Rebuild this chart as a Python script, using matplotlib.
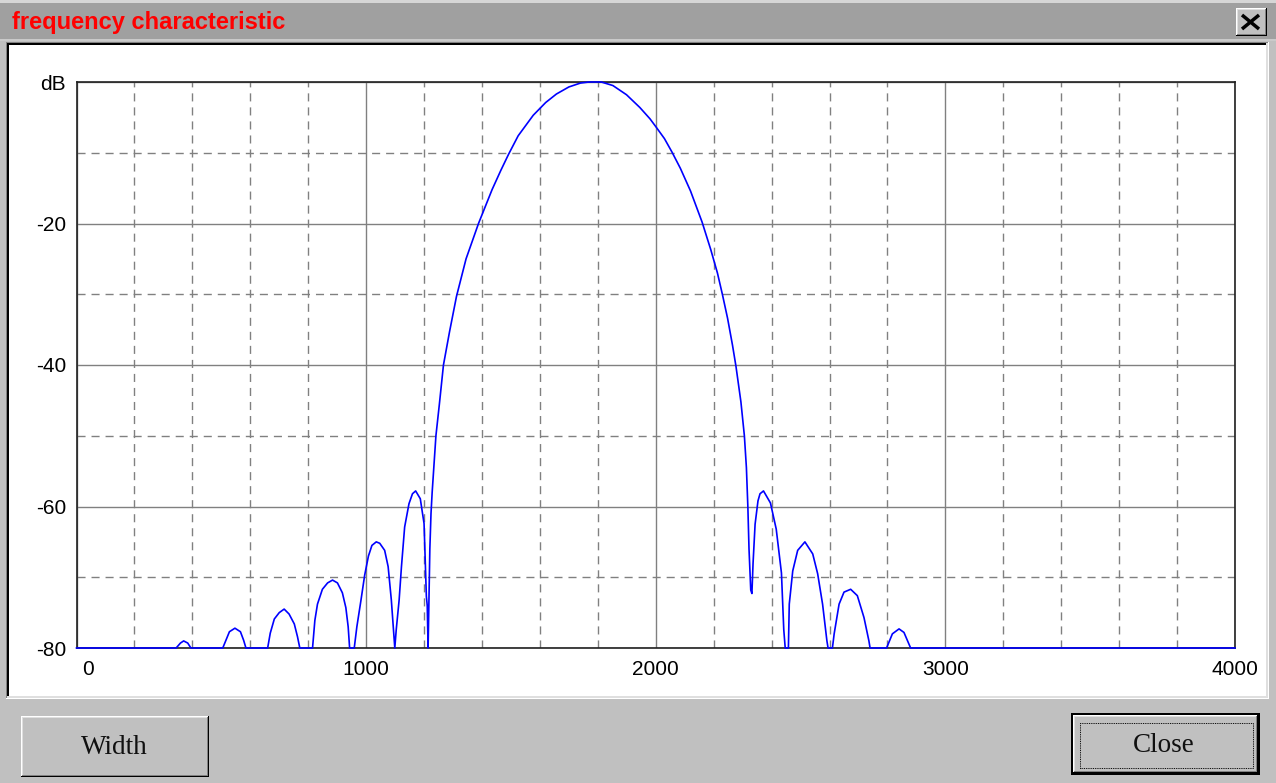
import matplotlib
matplotlib.use("Agg")
import matplotlib.pyplot as plt
import matplotlib.transforms as mtransforms
from matplotlib.patches import Rectangle
from matplotlib.lines import Line2D
from matplotlib.ticker import MultipleLocator

# ---------------------------------------------------------------- data
# Filter magnitude response (dB, floor at -80) versus frequency (Hz)
left_lobes_hz = [0, 344, 359, 370, 384, 395,
                 505, 516, 528, 547, 566, 577, 585,
                 660, 669, 683, 700, 717, 734, 752, 763, 771,
                 815, 823, 832, 849, 867, 884, 901, 918, 930, 938, 943,
                 959, 968, 982, 995, 1008, 1020, 1035, 1047, 1064, 1076, 1087, 1095, 1099,
                 1104, 1114, 1122, 1133, 1148, 1160, 1171, 1187, 1200, 1208, 1211, 1214]
left_lobes_db = [-80, -80, -79.3, -79.0, -79.3, -80,
                 -80, -78.9, -77.7, -77.2, -77.7, -78.9, -80,
                 -80, -77.9, -75.9, -75.0, -74.5, -75.2, -76.6, -78.4, -80,
                 -80, -76.1, -73.8, -71.7, -70.8, -70.4, -70.8, -72.2, -74.3, -77.0, -80,
                 -80, -77.0, -73.3, -69.7, -67.0, -65.5, -65.0, -65.2, -66.2, -68.5, -73.2, -77.6, -80,
                 -77.4, -73.2, -68.5, -62.9, -59.6, -58.2, -57.8, -58.9, -62.4, -72.7, -74.0, -80]

main_lobe_hz = [1217, 1220, 1224, 1228, 1233, 1241, 1253, 1267, 1288, 1312, 1345, 1388,
                1435, 1465, 1492, 1525, 1577, 1620, 1657, 1700, 1740, 1770, 1812, 1852,
                1899, 1945, 1980, 2000, 2030, 2056, 2085, 2120, 2160, 2190, 2213, 2230,
                2248, 2265, 2277, 2294, 2306, 2313, 2318, 2322, 2328, 2332]
main_lobe_db = [-72.7, -66, -61, -58, -55, -50, -45.5, -40, -35.3, -30.3, -25, -20,
                -15.2, -12.5, -10.2, -7.6, -4.7, -2.9, -1.7, -0.7, -0.15, 0, 0, -0.5,
                -1.8, -3.6, -5.2, -6.3, -8.0, -9.9, -12.2, -15.4, -19.8, -23.7, -27.0, -30.0,
                -33.4, -37.2, -40.2, -45.2, -50.0, -54.5, -60, -66, -71.8, -72.3]

right_lobes_hz = [2336, 2343, 2353, 2360, 2372, 2396, 2416, 2434, 2442, 2447,
                  2458, 2461, 2473, 2490, 2515, 2542, 2559, 2576, 2591, 2595,
                  2610, 2616, 2633, 2650, 2673, 2696, 2719, 2736, 2740,
                  2797, 2817, 2840, 2857, 2880,
                  4000]
right_lobes_db = [-68, -62.5, -59.2, -58.2, -57.8, -59.5, -63.2, -69.4, -77.4, -80,
                  -80, -73.8, -69.1, -66.2, -65.0, -66.7, -69.5, -73.8, -79, -80,
                  -80, -78, -73.8, -72.1, -71.7, -72.6, -75.7, -79, -80,
                  -80, -78, -77.3, -77.8, -80,
                  -80]

x_ticks = [0, 1000, 2000, 3000, 4000]
x_tick_labels = ["0", "1000", "2000", "3000", "4000"]
y_ticks = [0, -20, -40, -60, -80]
y_tick_labels = ["dB", "-20", "-40", "-60", "-80"]

window_title = "frequency characteristic"
width_button_label = "Width"
close_button_label = "Close"

# ---------------------------------------------------------------- figure
W, H, DPI = 1276, 783, 100
fig = plt.figure(figsize=(W / DPI, H / DPI), dpi=DPI, facecolor="#c0c0c0")


def fx(x):
    return x / W


def fy(y):
    return 1 - y / H


def box(x0, y0, x1, y1, color, z=-5):
    fig.add_artist(Rectangle((fx(x0), fy(y1)), (x1 - x0) / W, (y1 - y0) / H,
                             transform=fig.transFigure, facecolor=color,
                             edgecolor="none", zorder=z, antialiased=False))


def bevel(x0, y0, x1, y1, light, dark, t=1, z=-4):
    box(x0, y0, x1, y0 + t, light, z)
    box(x0, y0, x0 + t, y1, light, z)
    box(x0, y1 - t, x1, y1, dark, z)
    box(x1 - t, y0, x1, y1, dark, z)


# title bar
box(0, 0, W, 3, "#d6d6d6")
box(0, 3, W, 39, "#a0a0a0")
box(0, 39, W, 41, "#cacaca")
fig.text(fx(12), fy(29), window_title, color="#ff0000", fontsize=17,
         fontweight="bold", family="Liberation Sans", ha="left", va="baseline")

# close glyph button in the title bar
box(1236, 8, 1267, 36, "#c0c0c0")
bevel(1236, 8, 1267, 36, "#ffffff", "#000000")
bevel(1237, 9, 1266, 35, "#dfdfdf", "#808080")
for (a, b), (c, d) in [((1242, 15), (1259, 29)), ((1259, 15), (1242, 29))]:
    fig.add_artist(Line2D([fx(a), fx(c)], [fy(b), fy(d)], transform=fig.transFigure,
                          color="#000000", linewidth=2.5, solid_capstyle="butt", zorder=2))

# sunken white panel holding the plot
box(6, 42, 1269, 699, "#ffffff")
bevel(6, 42, 1269, 699, "#808080", "#ffffff")
bevel(7, 43, 1268, 698, "#000000", "#dfdfdf", t=2)

# ---------------------------------------------------------------- axes
left, right, top, bottom = 76.5, 1235, 82, 648
ax = fig.add_axes([fx(left), fy(bottom), (right - left) / W, (bottom - top) / H])
ax.set_zorder(1)
ax.set_facecolor("#ffffff")
ax.set_xlim(0, 4000)
ax.set_ylim(-80, 0)

ax.set_xticks(x_ticks)
ax.set_xticklabels(x_tick_labels)
ax.set_yticks(y_ticks)
ax.set_yticklabels(y_tick_labels)
ax.xaxis.set_minor_locator(MultipleLocator(200))
ax.yaxis.set_minor_locator(MultipleLocator(10))

ax.grid(which="major", color="#808080", linewidth=1.0, linestyle="-")
ax.grid(which="minor", color="#808080", linewidth=1.0, linestyle=(0, (5.8, 4.3)))
ax.set_axisbelow(True)

ax.tick_params(which="both", length=0)
ax.tick_params(axis="x", pad=8.6, labelsize=15, labelcolor="#000000")
ax.tick_params(axis="y", pad=7.6, labelsize=15, labelcolor="#000000")
for lab in ax.get_xticklabels() + ax.get_yticklabels():
    lab.set_family("Liberation Sans")

# the "0" label sits a little to the right of its gridline
zero_label = ax.get_xticklabels()[0]
zero_label.set_transform(zero_label.get_transform() +
                         mtransforms.ScaledTranslation(11.5 / DPI, 0, fig.dpi_scale_trans))

for s in ax.spines.values():
    s.set_color("#202020")
    s.set_linewidth(1.2)

freq = left_lobes_hz + main_lobe_hz + right_lobes_hz
level = left_lobes_db + main_lobe_db + right_lobes_db
ax.plot(freq, level, color="#0000ff", linewidth=1.2, clip_on=False, zorder=3)

# ---------------------------------------------------------------- buttons
# "Width"
box(21, 716, 209, 777, "#c0c0c0")
bevel(21, 716, 209, 777, "#ffffff", "#000000")
bevel(22, 717, 208, 776, "#dfdfdf", "#808080")
fig.text(fx(114.5), fy(754), width_button_label, fontsize=19.5, family="Liberation Serif",
         color="#101010", ha="center", va="baseline")

# "Close" (default button with focus rectangle)
box(1071, 713, 1260, 775, "#000000")
box(1073, 715, 1258, 773, "#c0c0c0")
bevel(1073, 715, 1258, 773, "#ffffff", "#000000")
bevel(1074, 716, 1257, 772, "#dfdfdf", "#808080")
fig.add_artist(Rectangle((fx(1079.5), fy(767.5)), (1253 - 1079.5) / W, (767.5 - 722.5) / H,
                         transform=fig.transFigure, facecolor="none", edgecolor="#000000",
                         linewidth=0.72, linestyle=(0, (0.9, 0.9)), zorder=2))
fig.text(fx(1164), fy(752), close_button_label, fontsize=19.5, family="Liberation Serif",
         color="#101010", ha="center", va="baseline")

fig.savefig("out.png", dpi=DPI, facecolor=fig.get_facecolor())
